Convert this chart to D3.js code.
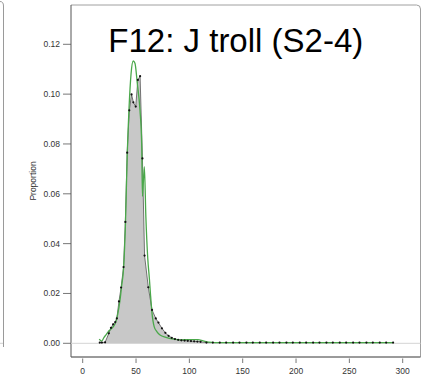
<!DOCTYPE html>
<html>
<head>
<meta charset="utf-8">
<script src="https://cdn.jsdelivr.net/npm/d3@7/dist/d3.min.js"></script>
<style>
  html, body { margin: 0; padding: 0; background: #fff; }
  svg { display: block; }
  text { font-family: "Liberation Sans", Arial, sans-serif; }
</style>
</head>
<body>
<svg id="chart" width="423" height="381"></svg>
<script>
// ---- data ----
const obsLength = [16, 18, 21, 24.5, 26.5, 28.5, 30.5, 32, 34, 36, 38.3, 40, 41.7, 43.7, 45.8, 47.5, 49.7, 51.7, 53.8, 56, 58, 61.5,
  65, 68.5, 71, 74.3, 77.5, 80.5, 83.5, 86.5, 89.5, 92.5, 95.5, 98.5, 101.5, 104.5, 107.5, 110.5,
  116, 122, 128.5, 134.5, 141, 147, 153.5, 159.5, 166, 172, 178.5, 184.5, 191, 197, 203.5, 209.5, 216, 222,
  228.5, 234.5, 241, 247, 253.5, 259.5, 266, 272, 278.5, 284.5, 291];
const obsProp = [0.0003, 0.0003, 0.0004, 0.0040, 0.0062, 0.0076, 0.0085, 0.0100, 0.0168, 0.0224, 0.0306, 0.0487, 0.0765, 0.0935, 0.0999, 0.0967, 0.0950, 0.1057, 0.1072, 0.0742, 0.0352, 0.0225,
  0.0134, 0.0100, 0.0083, 0.0060, 0.0042, 0.0030, 0.0022, 0.0017, 0.0014, 0.0012, 0.0011, 0.0010, 0.0009, 0.0008, 0.0007, 0.0006,
  0.0003, 0.0003, 0.0003, 0.0003, 0.0003, 0.0003, 0.0003, 0.0003, 0.0003, 0.0003, 0.0003, 0.0003, 0.0003, 0.0003, 0.0003, 0.0003, 0.0003, 0.0003,
  0.0003, 0.0003, 0.0003, 0.0003, 0.0003, 0.0003, 0.0003, 0.0003, 0.0003, 0.0003, 0.0003];

const fitLength = [15.5, 17.8, 20, 22, 24, 26.5, 28.7, 31, 33, 35, 36.5, 38.3, 40, 41.7, 43.5, 45.3, 47.4, 49, 51.2, 53.7, 55.3, 56, 57.8, 59.2, 61, 62.5, 63.5, 65, 67, 69.5, 72.5, 78, 85, 92, 100, 108, 113, 118, 130, 150, 200, 250, 291];
const fitProp = [0.0017, 0.0009, 0.0024, 0.0035, 0.0047, 0.0057, 0.0067, 0.0085, 0.0120, 0.0174, 0.0230, 0.0300, 0.0470, 0.0750, 0.0950, 0.1080, 0.1133, 0.1124, 0.1043, 0.0936, 0.0800, 0.0590, 0.0709, 0.0510, 0.0340, 0.0260, 0.0200, 0.0120, 0.0067, 0.0047, 0.0033, 0.0024, 0.0017, 0.0014, 0.0015, 0.0015, 0.0010, 0.0005, 0.0003, 0.0003, 0.0003, 0.0003, 0.0003];

const xTicks = [0, 50, 100, 150, 200, 250, 300];
const yTicks = [0.00, 0.02, 0.04, 0.06, 0.08, 0.10, 0.12];
const yTickLabels = ["0.00", "0.02", "0.04", "0.06", "0.08", "0.10", "0.12"];
const titleText = "F12: J troll (S2-4)";
const yLabel = "Proportion";

// ---- layout ----
const svg = d3.select("#chart");
const box = {left: 71, top: 5, right: 420.5, bottom: 357};
const x = d3.scaleLinear().domain([0, 300]).range([82.7, 402.7]);
const y = d3.scaleLinear().domain([0, 0.12]).range([343.3, 44.3]);

// neighbour panel sliver on the far left
svg.append("path")
  .attr("d", "M0,1.5 Q3.5,1.5 3.5,6 L3.5,347")
  .attr("fill", "none").attr("stroke", "#9a9a9a").attr("stroke-width", 1);
svg.append("line").attr("x1", 0).attr("x2", 3).attr("y1", 343.3).attr("y2", 343.3)
  .attr("stroke", "#d0d0d0").attr("stroke-width", 1);

// panel box (rounded top-right corner)
svg.append("path")
  .attr("d", `M${box.left},${box.top} L${box.right - 4},${box.top} Q${box.right},${box.top} ${box.right},${box.top + 4} L${box.right},${box.bottom} L${box.left},${box.bottom}`)
  .attr("fill", "none").attr("stroke", "#a0a0a0").attr("stroke-width", 1);
svg.append("line").attr("x1", box.left).attr("x2", box.left).attr("y1", box.top).attr("y2", box.bottom)
  .attr("stroke", "#555").attr("stroke-width", 1);
svg.append("line").attr("x1", box.left).attr("x2", box.right).attr("y1", box.bottom).attr("y2", box.bottom)
  .attr("stroke", "#666").attr("stroke-width", 1);

// zero reference line
svg.append("line").attr("x1", box.left).attr("x2", box.right).attr("y1", y(0)).attr("y2", y(0))
  .attr("stroke", "#d4d4d4").attr("stroke-width", 1);

// y axis ticks + labels
const yg = svg.append("g");
yg.selectAll("line").data(yTicks).join("line")
  .attr("x1", 63).attr("x2", box.left).attr("y1", d => y(d)).attr("y2", d => y(d))
  .attr("stroke", "#555").attr("stroke-width", 0.8);
yg.selectAll("text").data(yTicks).join("text")
  .attr("x", 60).attr("y", d => y(d)).attr("dy", "0.35em")
  .attr("text-anchor", "end").attr("font-size", 8.5).attr("fill", "#333")
  .text((d, i) => yTickLabels[i]);

svg.append("text")
  .attr("transform", "translate(35.5,181) rotate(-90)")
  .attr("text-anchor", "middle").attr("font-size", 8.5).attr("fill", "#333")
  .text(yLabel);

// x axis ticks + labels
const xg = svg.append("g");
xg.selectAll("line").data(xTicks).join("line")
  .attr("x1", d => x(d)).attr("x2", d => x(d)).attr("y1", 358.5).attr("y2", 363)
  .attr("stroke", "#555").attr("stroke-width", 0.8);
xg.selectAll("text").data(xTicks).join("text")
  .attr("x", d => x(d)).attr("y", 373.5)
  .attr("text-anchor", "middle").attr("font-size", 8.5).attr("fill", "#333")
  .text(d => d);

// observed: filled area + line + dots
const obs = obsLength.map((v, i) => ({x: v, y: obsProp[i]}));
const fit = fitLength.map((v, i) => ({x: v, y: fitProp[i]}));

svg.append("path").datum(obs)
  .attr("d", d3.area().x(d => x(d.x)).y0(y(0)).y1(d => y(d.y)))
  .attr("fill", "#c8c8c8");

svg.append("path").datum(obs)
  .attr("d", d3.line().x(d => x(d.x)).y(d => y(d.y)))
  .attr("fill", "none").attr("stroke", "#555").attr("stroke-width", 0.8);

// fitted curve
svg.append("path").datum(fit)
  .attr("d", d3.line().curve(d3.curveMonotoneX).x(d => x(d.x)).y(d => y(d.y)))
  .attr("fill", "none").attr("stroke", "#4aa84a").attr("stroke-width", 1.3);

svg.append("g").selectAll("circle").data(obs).join("circle")
  .attr("cx", d => x(d.x)).attr("cy", d => y(d.y)).attr("r", 1.1)
  .attr("fill", "#111");

// title
svg.append("text")
  .attr("x", 235.8).attr("y", 51.5)
  .attr("text-anchor", "middle").attr("font-size", 33).attr("fill", "#000")
  .text(titleText);
</script>
</body>
</html>
